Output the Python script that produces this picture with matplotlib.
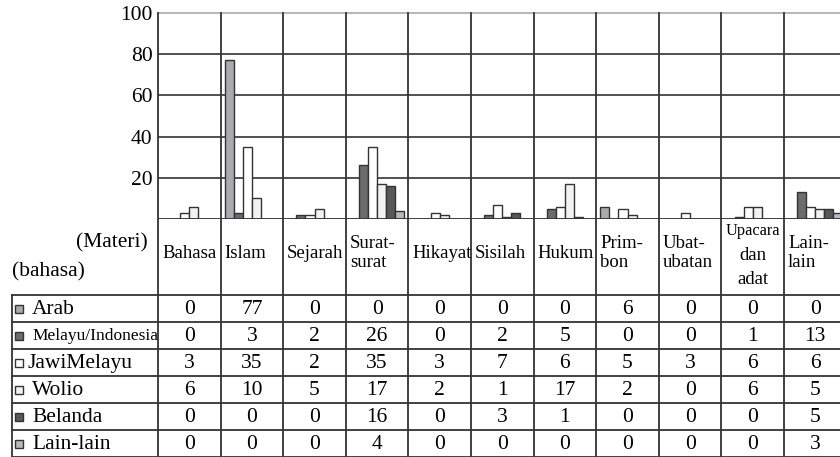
import numpy as np
import matplotlib
matplotlib.use('Agg')
import matplotlib.pyplot as plt
from matplotlib.patches import Rectangle

plt.rcParams['font.family'] = ['Liberation Serif', 'DejaVu Serif']

categories = ['Bahasa', 'Islam', 'Sejarah', 'Surat-\nsurat', 'Hikayat', 'Sisilah',
              'Hukum', 'Prim-\nbon', 'Ubat-\nubatan', 'Upacara\ndan\nadat', 'Lain-\nlain']
languages = ['Arab', 'Melayu/Indonesia', 'JawiMelayu', 'Wolio', 'Belanda', 'Lain-lain']

arab = [0, 77, 0, 0, 0, 0, 0, 6, 0, 0, 0]
melayu = [0, 3, 2, 26, 0, 2, 5, 0, 0, 1, 13]
jawi = [3, 35, 2, 35, 3, 7, 6, 5, 3, 6, 6]
wolio = [6, 10, 5, 17, 2, 1, 17, 2, 0, 6, 5]
belanda = [0, 0, 0, 16, 0, 3, 1, 0, 0, 0, 5]
lain = [0, 0, 0, 4, 0, 0, 0, 0, 0, 0, 3]

series = [arab, melayu, jawi, wolio, belanda, lain]
colors = ['#a9aaae', '#6c6c6e', '#ffffff', '#f1f3f1', '#585858', '#b6b9bd']
yticks = [20, 40, 60, 80, 100]

W, H = 840, 457
LC = '#333333'

fig = plt.figure(figsize=(W / 100, H / 100), dpi=100)

# pixel layout
x0 = 158          # left of plot / first column
cw = 62.6         # column width
ytop, ybase = 13, 219
row_top, rh = 295, 27
xr = x0 + cw * len(categories)

ax = fig.add_axes([x0 / W, 1 - ybase / H, (xr - x0) / W, (ybase - ytop) / H])
ax.set_xlim(0, len(categories))
ax.set_ylim(0, 100)

bw = 0.144
off = (1 - bw * len(series)) / 2
idx = np.arange(len(categories))
for j, (vals, c) in enumerate(zip(series, colors)):
    ax.bar(idx + off + j * bw, vals, width=bw, align='edge', color=c,
           edgecolor=LC, linewidth=1.0, zorder=3)

ax.set_yticks(yticks)
ax.set_yticklabels([str(v) for v in yticks], fontsize=15.5)
ax.tick_params(axis='y', length=0, pad=4)
ax.set_xticks([])
for v in yticks[:-1]:
    ax.axhline(v, color=LC, lw=1.2, zorder=1)
for s in ['left', 'right', 'bottom']:
    ax.spines[s].set_visible(False)
ax.spines['top'].set_color('#aaaaaa')
ax.spines['top'].set_linewidth(1.2)
ax.axhline(0, color=LC, lw=1.3, zorder=4)

# table drawn in pixel space
tab = fig.add_axes([0, 0, 1, 1], zorder=5)
tab.set_xlim(0, W)
tab.set_ylim(H, 0)
tab.axis('off')
tab.patch.set_alpha(0)

for i in range(len(categories)):
    xv = x0 + i * cw
    tab.plot([xv, xv], [ytop, H], color=LC, lw=1.3)
tab.plot([12, 12], [row_top, H], color=LC, lw=1.3)
for r in range(len(languages) + 1):
    yv = row_top + r * rh
    tab.plot([12, W + 10], [yv, yv], color=LC, lw=1.3)

tab.text(148, 243, '(Materi)', ha='right', va='center', fontsize=15.5)
tab.text(12, 272, '(bahasa)', ha='left', va='center', fontsize=15.5)

hy = 253
for i, name in enumerate(categories):
    xl = x0 + i * cw
    if name.startswith('Upacara'):
        xc = xl + cw / 2
        parts = name.split('\n')
        tab.text(xc, 231, parts[0], ha='center', va='center', fontsize=11.7)
        tab.text(xc, 255, parts[1], ha='center', va='center', fontsize=13.5)
        tab.text(xc, 279, parts[2], ha='center', va='center', fontsize=13.5)
    else:
        tab.text(xl + 4, hy, name, ha='left', va='center', fontsize=13.5,
                 linespacing=1.15)

for r, (lang, vals, c) in enumerate(zip(languages, series, colors)):
    yc = row_top + r * rh + rh / 2
    tab.add_patch(Rectangle((15, yc - 4), 8, 8, facecolor=c, edgecolor=LC, lw=1.0))
    if lang == 'Melayu/Indonesia':
        tab.text(32, yc + 1, lang, ha='left', va='center', fontsize=12.5)
    elif lang == 'JawiMelayu':
        tab.text(27, yc + 1, lang, ha='left', va='center', fontsize=15.5)
    else:
        tab.text(32, yc + 1, lang, ha='left', va='center', fontsize=15.5)
    for i, v in enumerate(vals):
        tab.text(x0 + i * cw + cw / 2, yc + 1, str(v), ha='center', va='center',
                 fontsize=15.5)

fig.savefig('out.png', dpi=100)
